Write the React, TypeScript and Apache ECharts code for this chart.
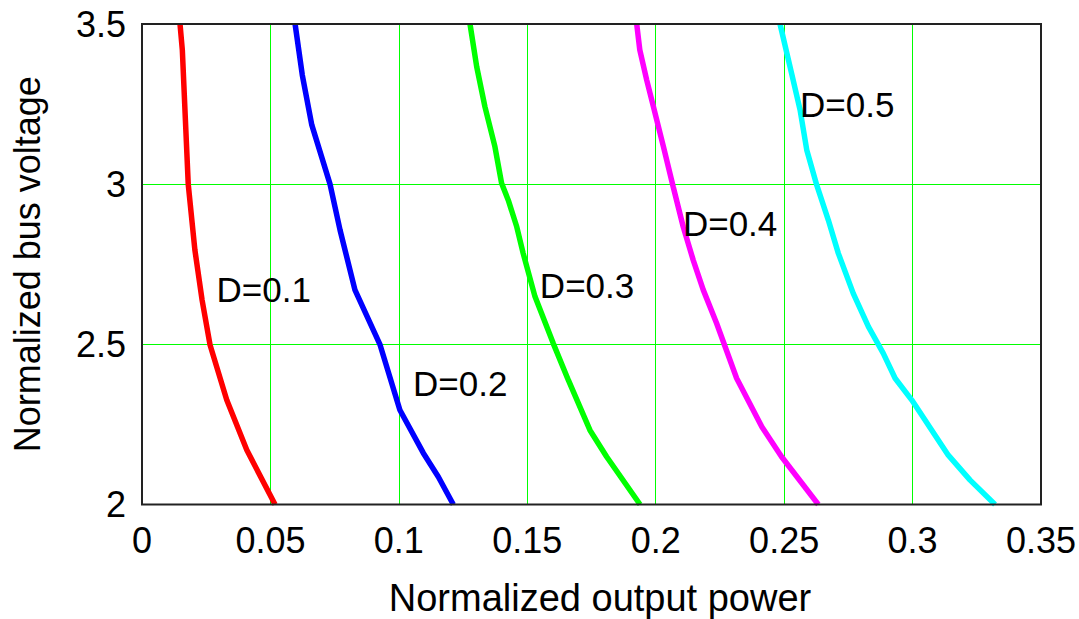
import React, { useEffect, useRef } from "react";
import * as echarts from "echarts";

const xTicks = [0, 0.05, 0.1, 0.15, 0.2, 0.25, 0.3, 0.35];
const yTicks = [2, 2.5, 3, 3.5];

const seriesNames = ["D=0.1", "D=0.2", "D=0.3", "D=0.4", "D=0.5"];
const seriesColors = ["#ff0000", "#0000ff", "#00ff00", "#ff00ff", "#00ffff"];

// [power, voltage]
const d01: [number, number][] = [
  [0.0148, 3.5], [0.0157, 3.419], [0.0169, 3.2], [0.018, 3.0], [0.0206, 2.794],
  [0.0234, 2.638], [0.0265, 2.498], [0.033, 2.326], [0.0408, 2.17], [0.0518, 2.0],
];
const d02: [number, number][] = [
  [0.0596, 3.5], [0.0624, 3.341], [0.0661, 3.185], [0.0732, 3.0], [0.0771, 2.857],
  [0.0829, 2.67], [0.0927, 2.498], [0.1004, 2.295], [0.1095, 2.161], [0.1154, 2.086], [0.1212, 2.0],
];
const d03: [number, number][] = [
  [0.1277, 3.5], [0.1303, 3.367], [0.1335, 3.242], [0.1374, 3.117], [0.14, 3.003],
  [0.1426, 2.95], [0.1459, 2.867], [0.1484, 2.784], [0.153, 2.649], [0.1601, 2.503],
  [0.166, 2.388], [0.1744, 2.232], [0.1809, 2.149], [0.1939, 2.0],
];
const d04: [number, number][] = [
  [0.1926, 3.5], [0.1938, 3.419], [0.1965, 3.325], [0.1991, 3.242], [0.203, 3.117],
  [0.2068, 2.992], [0.2107, 2.867], [0.2146, 2.763], [0.2185, 2.67], [0.2237, 2.566],
  [0.2315, 2.394], [0.2413, 2.243], [0.249, 2.149], [0.2633, 2.0],
];
const d05: [number, number][] = [
  [0.2484, 3.5], [0.2529, 3.346], [0.2562, 3.232], [0.2588, 3.107], [0.2627, 2.997],
  [0.2672, 2.888], [0.2711, 2.784], [0.2769, 2.659], [0.2828, 2.555], [0.2886, 2.472],
  [0.2932, 2.394], [0.2997, 2.326], [0.3139, 2.154], [0.3224, 2.076], [0.3321, 2.0],
];
const seriesData = [d01, d02, d03, d04, d05];

// label anchor (left edge, vertical middle) in data coords
const labelAnchors: [number, number][] = [
  [0.029, 2.67], [0.1055, 2.379], [0.1549, 2.685], [0.2106, 2.876], [0.2562, 3.25],
];

const FONT = "Liberation Sans, Arial, sans-serif";

export default function App() {
  const ref = useRef<HTMLDivElement>(null);
  useEffect(() => {
    if (!ref.current) return;
    const chart = echarts.init(ref.current, undefined, { renderer: "svg" });
    chart.setOption({
      animation: false,
      backgroundColor: "#ffffff",
      grid: {
        left: 142, right: 38, top: 24, bottom: 114.5,
        containLabel: false,
        outerBoundsMode: "none",
        show: true, borderColor: "#222222", borderWidth: 2, backgroundColor: "transparent", z: 4,
      },
      xAxis: {
        type: "value",
        min: xTicks[0], max: xTicks[xTicks.length - 1], interval: 0.05,
        name: "Normalized output power",
        nameLocation: "middle", nameGap: 74,
        nameTextStyle: { fontFamily: FONT, fontSize: 38, color: "#000", padding: [0, 0, 0, 17] },
        axisLine: { show: false },
        axisTick: { show: false },
        axisLabel: {
          fontFamily: FONT, fontSize: 36, color: "#000", margin: 18,
          formatter: (v: number) => String(parseFloat(v.toFixed(2))),
        },
        splitLine: { show: true, showMinLine: false, showMaxLine: false, lineStyle: { color: "#00ff00", width: 1 } },
      },
      yAxis: {
        type: "value",
        min: yTicks[0], max: yTicks[yTicks.length - 1], interval: 0.5,
        name: "Normalized bus voltage",
        nameLocation: "middle", nameGap: 97,
        nameTextStyle: { fontFamily: FONT, fontSize: 36, color: "#000" },
        axisLine: { show: false },
        axisTick: { show: false },
        axisLabel: {
          fontFamily: FONT, fontSize: 36, color: "#000", margin: 16,
          formatter: (v: number) => String(parseFloat(v.toFixed(2))),
        },
        splitLine: { show: true, showMinLine: false, showMaxLine: false, lineStyle: { color: "#00ff00", width: 1 } },
      },
      series: seriesData.map((data, i) => ({
        type: "line",
        name: seriesNames[i],
        data,
        showSymbol: false,
        symbol: "none",
        lineStyle: { color: seriesColors[i], width: 5.5 },
        itemStyle: { color: seriesColors[i] },
        z: 3,
        markPoint: {
          symbol: "circle",
          symbolSize: 0,
          silent: true,
          data: [{
            coord: labelAnchors[i],
            label: {
              show: true, position: "right", distance: 0,
              formatter: seriesNames[i],
              fontFamily: FONT, fontSize: 35, color: "#000",
            },
          }],
        },
      })),
    });
    return () => chart.dispose();
  }, []);
  return (
    <div
      ref={ref}
      style={{ position: "fixed", left: 0, top: 0, width: 1079, height: 619, background: "#fff" }}
    />
  );
}
